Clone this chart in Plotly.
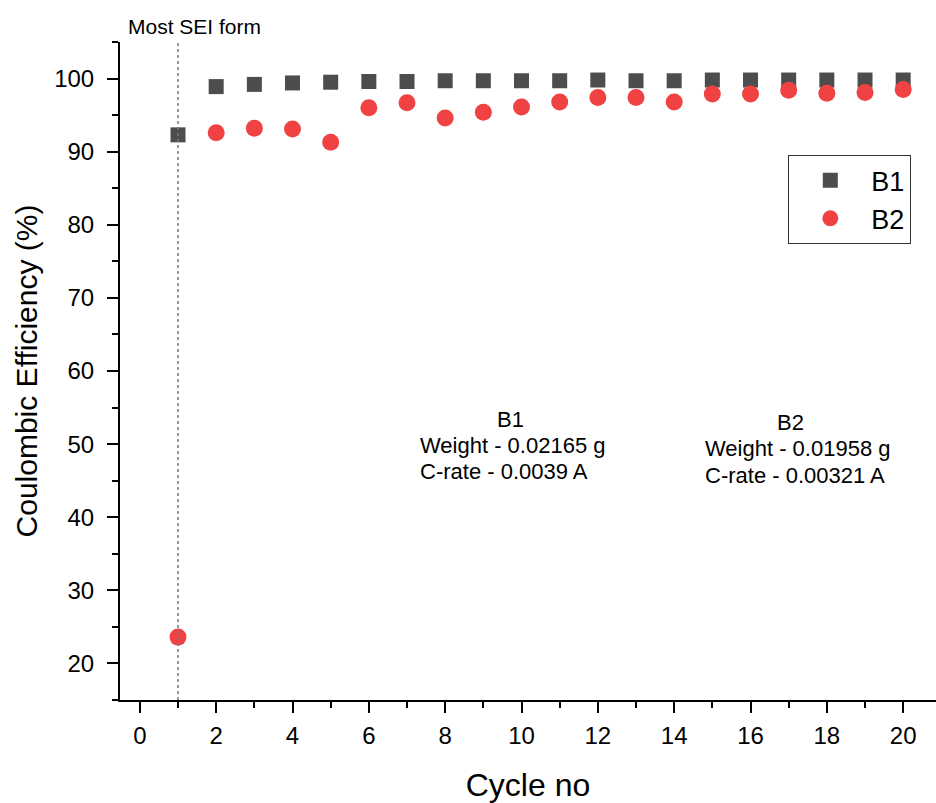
import plotly.graph_objects as go

cycles = list(range(1, 21))
b1 = [92.3, 98.9, 99.2, 99.4, 99.5, 99.6, 99.6, 99.7, 99.7, 99.7,
      99.7, 99.8, 99.7, 99.7, 99.8, 99.8, 99.8, 99.8, 99.8, 99.8]
b2 = [23.6, 92.6, 93.2, 93.1, 91.3, 96.0, 96.7, 94.6, 95.4, 96.1,
      96.8, 97.4, 97.4, 96.8, 97.9, 97.9, 98.4, 98.0, 98.1, 98.5]
x_ticks = list(range(0, 21, 2))
y_ticks = list(range(20, 101, 10))

FONT = "Liberation Sans, Arial, sans-serif"

fig = go.Figure()
fig.add_trace(go.Scatter(x=cycles, y=b1, mode="markers", name="B1",
                         marker=dict(symbol="square", size=15, color="#4d4d4d")))
fig.add_trace(go.Scatter(x=cycles, y=b2, mode="markers", name="B2",
                         marker=dict(symbol="circle", size=17, color="#f04243")))

fig.add_shape(type="line", x0=1, x1=1, xref="x", y0=0, y1=1, yref="paper",
              line=dict(color="#777777", width=1.5, dash="dot"))

def txt(x, y, s, anchor):
    fig.add_annotation(x=x, y=y, xref="x", yref="y", text=s, showarrow=False,
                       xanchor=anchor, yanchor="middle",
                       font=dict(family=FONT, size=22, color="black"))

txt(9.70, 53.4, "B1", "center")
txt(7.29, 49.8, "Weight - 0.02165 g", "left")
txt(7.29, 46.2, "C-rate - 0.0039 A", "left")
txt(17.04, 52.9, "B2", "center")
txt(14.76, 49.4, "Weight - 0.01958 g", "left")
txt(14.76, 45.7, "C-rate - 0.00321 A", "left")

fig.add_annotation(x=-0.36, y=1.024, xref="x", yref="paper", text="Most SEI form",
                   showarrow=False, xanchor="left", yanchor="middle",
                   font=dict(family=FONT, size=21, color="black"))

fig.update_layout(
    width=936, height=803,
    margin=dict(l=120, r=0, t=42, b=103),
    plot_bgcolor="white", paper_bgcolor="white",
    font=dict(family=FONT, color="black"),
    showlegend=True,
    legend=dict(x=0.819, y=0.828, xanchor="left", yanchor="top",
                bordercolor="#333333", borderwidth=1, bgcolor="white",
                font=dict(size=27, family=FONT), itemsizing="trace",
                itemwidth=72, entrywidth=140, tracegroupgap=0),
)
fig.update_xaxes(
    range=[-0.52, 20.86], tickvals=x_ticks, showgrid=False, zeroline=False,
    showline=True, linecolor="black", linewidth=2,
    ticks="outside", ticklen=11, tickwidth=2, tickcolor="black",
    tickfont=dict(size=24, family=FONT), ticklabelstandoff=2,
    minor=dict(dtick=1, tick0=1, ticks="outside", ticklen=6, tickwidth=2, tickcolor="black"),
    title=dict(text="Cycle no", font=dict(size=32, family=FONT), standoff=26),
)
fig.update_yaxes(
    range=[15, 105], tickvals=y_ticks, showgrid=False, zeroline=False,
    showline=True, linecolor="black", linewidth=2,
    ticks="outside", ticklen=11, tickwidth=2, tickcolor="black",
    tickfont=dict(size=24, family=FONT), ticklabelstandoff=8,
    minor=dict(dtick=10, tick0=15, ticks="outside", ticklen=6, tickwidth=2, tickcolor="black"),
    title=dict(text="Coulombic Efficiency (%)", font=dict(size=30, family=FONT), standoff=8),
)

fig.write_html("out.html")
